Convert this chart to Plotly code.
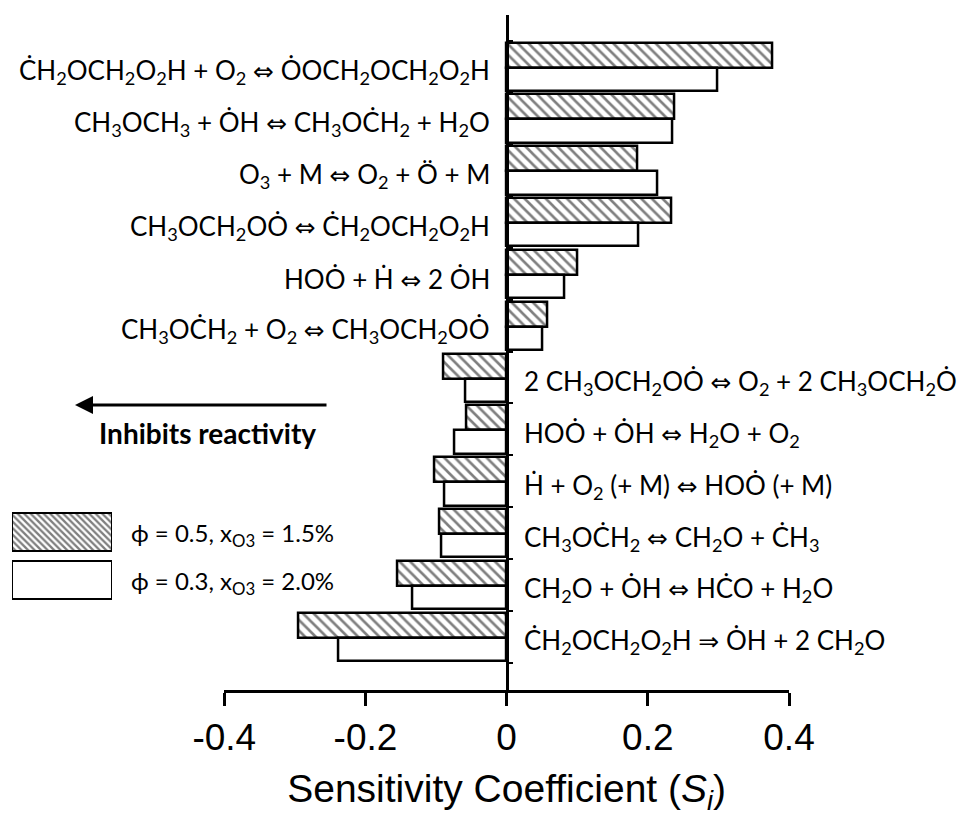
import plotly.graph_objects as go

# Reactions listed top to bottom as they appear
reactions = [
    "ĊH<sub>2</sub>OCH<sub>2</sub>O<sub>2</sub>H + O<sub>2</sub> ⇔ ȮOCH<sub>2</sub>OCH<sub>2</sub>O<sub>2</sub>H",
    "CH<sub>3</sub>OCH<sub>3</sub> + ȮH ⇔ CH<sub>3</sub>OĊH<sub>2</sub> + H<sub>2</sub>O",
    "O<sub>3</sub> + M ⇔ O<sub>2</sub> + Ö + M",
    "CH<sub>3</sub>OCH<sub>2</sub>OȮ ⇔ ĊH<sub>2</sub>OCH<sub>2</sub>O<sub>2</sub>H",
    "HOȮ + Ḣ ⇔ 2 ȮH",
    "CH<sub>3</sub>OĊH<sub>2</sub> + O<sub>2</sub> ⇔ CH<sub>3</sub>OCH<sub>2</sub>OȮ",
    "2 CH<sub>3</sub>OCH<sub>2</sub>OȮ ⇔ O<sub>2</sub> + 2 CH<sub>3</sub>OCH<sub>2</sub>Ȯ",
    "HOȮ + ȮH ⇔ H<sub>2</sub>O + O<sub>2</sub>",
    "Ḣ + O<sub>2</sub> (+ M) ⇔ HOȮ (+ M)",
    "CH<sub>3</sub>OĊH<sub>2</sub> ⇔ CH<sub>2</sub>O + ĊH<sub>3</sub>",
    "CH<sub>2</sub>O + ȮH ⇔ HĊO + H<sub>2</sub>O",
    "ĊH<sub>2</sub>OCH<sub>2</sub>O<sub>2</sub>H ⇒ ȮH + 2 CH<sub>2</sub>O",
]
sens_phi05 = [0.377, 0.238, 0.185, 0.233, 0.100, 0.058,
              -0.090, -0.057, -0.103, -0.096, -0.155, -0.295]
sens_phi03 = [0.298, 0.235, 0.213, 0.186, 0.081, 0.051,
              -0.059, -0.074, -0.088, -0.092, -0.133, -0.239]
series_names = ["ϕ = 0.5, x<sub>O3</sub> = 1.5%", "ϕ = 0.3, x<sub>O3</sub> = 2.0%"]
x_ticks = [-0.4, -0.2, 0, 0.2, 0.4]
x_ticktext = ["-0.4", "-0.2", "0", "0.2", "0.4"]

n = len(reactions)
pos = [n - 1 - k for k in range(n)]  # top item gets highest position

# page body has an 8px margin; the figure fills the rest of the 966x816 window
OFF = 8
W, H = 966 - OFF, 816 - OFF


def fx(px):
    return (px - OFF) / W


def fy(py):
    return (H - (py - OFF)) / H


xdom = [fx(224.3), fx(789)]
ydom = [fy(690), fy(15)]

hatch_main = dict(shape="\\", size=7.5, solidity=0.35, fgcolor="black", bgcolor="white")
hatch_leg = dict(shape="\\", size=4.6, solidity=0.5, fgcolor="black", bgcolor="white")

fig = go.Figure()
fig.add_trace(go.Bar(
    y=pos, x=sens_phi05, orientation="h", offset=0, width=0.48,
    marker=dict(color="white", pattern=hatch_main, line=dict(color="black", width=2.5)),
    showlegend=False, name=series_names[0]))
fig.add_trace(go.Bar(
    y=pos, x=sens_phi03, orientation="h", offset=-0.45, width=0.45,
    marker=dict(color="white", line=dict(color="black", width=2.5)),
    showlegend=False, name=series_names[1]))

# legend swatches on their own small axes
fig.add_trace(go.Bar(
    y=[1], x=[1], orientation="h", width=0.78, xaxis="x2", yaxis="y2",
    marker=dict(color="white", pattern=hatch_leg, line=dict(color="black", width=2)),
    showlegend=False))
fig.add_trace(go.Bar(
    y=[0], x=[1], orientation="h", width=0.78, xaxis="x2", yaxis="y2",
    marker=dict(color="white", line=dict(color="black", width=2)),
    showlegend=False))


def fmt(txt):
    for a in ("⇔", "⇒"):
        txt = txt.replace(a, '<span style="font-family:DejaVu Sans;font-size:25px">' + a + "</span>")
    return txt


annotations = []
for k in range(n):
    v = sens_phi05[k]
    right_side = v < 0
    annotations.append(dict(
        x=0, y=pos[k], xref="x", yref="y", text=fmt(reactions[k]),
        xanchor="left" if right_side else "right", yanchor="middle",
        xshift=15 if right_side else -15, yshift=-4,
        showarrow=False, font=dict(family="Lato", size=26, color="black")))

# legend texts
for j, name in enumerate(series_names):
    annotations.append(dict(x=1, y=1 - j, xref="x2 domain", yref="y2", text=name,
                            xanchor="left", yanchor="middle", xshift=17, yshift=-2,
                            showarrow=False, font=dict(family="Lato", size=24, color="black")))

# arrow and caption
annotations.append(dict(x=fx(75), y=fy(405), xref="paper", yref="paper",
                        ax=253, ay=0, axref="pixel", ayref="pixel", text="",
                        showarrow=True, arrowhead=2, arrowsize=1.2, arrowwidth=3,
                        arrowcolor="black"))
annotations.append(dict(x=fx(207), y=fy(433), xref="paper", yref="paper",
                        text="<b>Inhibits reactivity</b>", showarrow=False,
                        xanchor="center", yanchor="middle",
                        font=dict(family="Lato", size=28, color="black")))

fig.update_layout(
    width=W, height=H,
    margin=dict(l=0, r=0, t=0, b=0, autoexpand=False),
    paper_bgcolor="white", plot_bgcolor="white",
    barmode="overlay", bargap=0,
    showlegend=False,
    xaxis=dict(domain=xdom, range=[-0.4, 0.4], tickvals=x_ticks, ticktext=x_ticktext,
               showline=True, linecolor="black", linewidth=2.5, showgrid=False,
               zeroline=False, ticks="outside", ticklen=13, tickwidth=2.5, tickcolor="black",
               tickfont=dict(family="Liberation Sans", size=37, color="black"),
               title=dict(text="Sensitivity Coefficient (<i>S</i><sub><i>i</i></sub>)",
                          font=dict(family="Liberation Sans", size=39, color="black"),
                          standoff=18),
               automargin=False, anchor="y"),
    yaxis=dict(domain=ydom, range=[-1.009, 12.013], anchor="free",
               position=(xdom[0] + xdom[1]) / 2, automargin=False,
               showline=True, linecolor="black", linewidth=2.5, showgrid=False,
               zeroline=False, showticklabels=False,
               tickvals=[k - 0.48 for k in range(n + 1)],
               ticks="inside", ticklen=5, tickwidth=2, tickcolor="black"),
    xaxis2=dict(domain=[fx(12), fx(112)], range=[0, 1], anchor="y2", visible=False,
                automargin=False),
    yaxis2=dict(domain=[fy(604), fy(508)], range=[-0.5, 1.5], anchor="x2",
                visible=False, automargin=False),
    annotations=annotations,
)

fig.write_html("out.html")
